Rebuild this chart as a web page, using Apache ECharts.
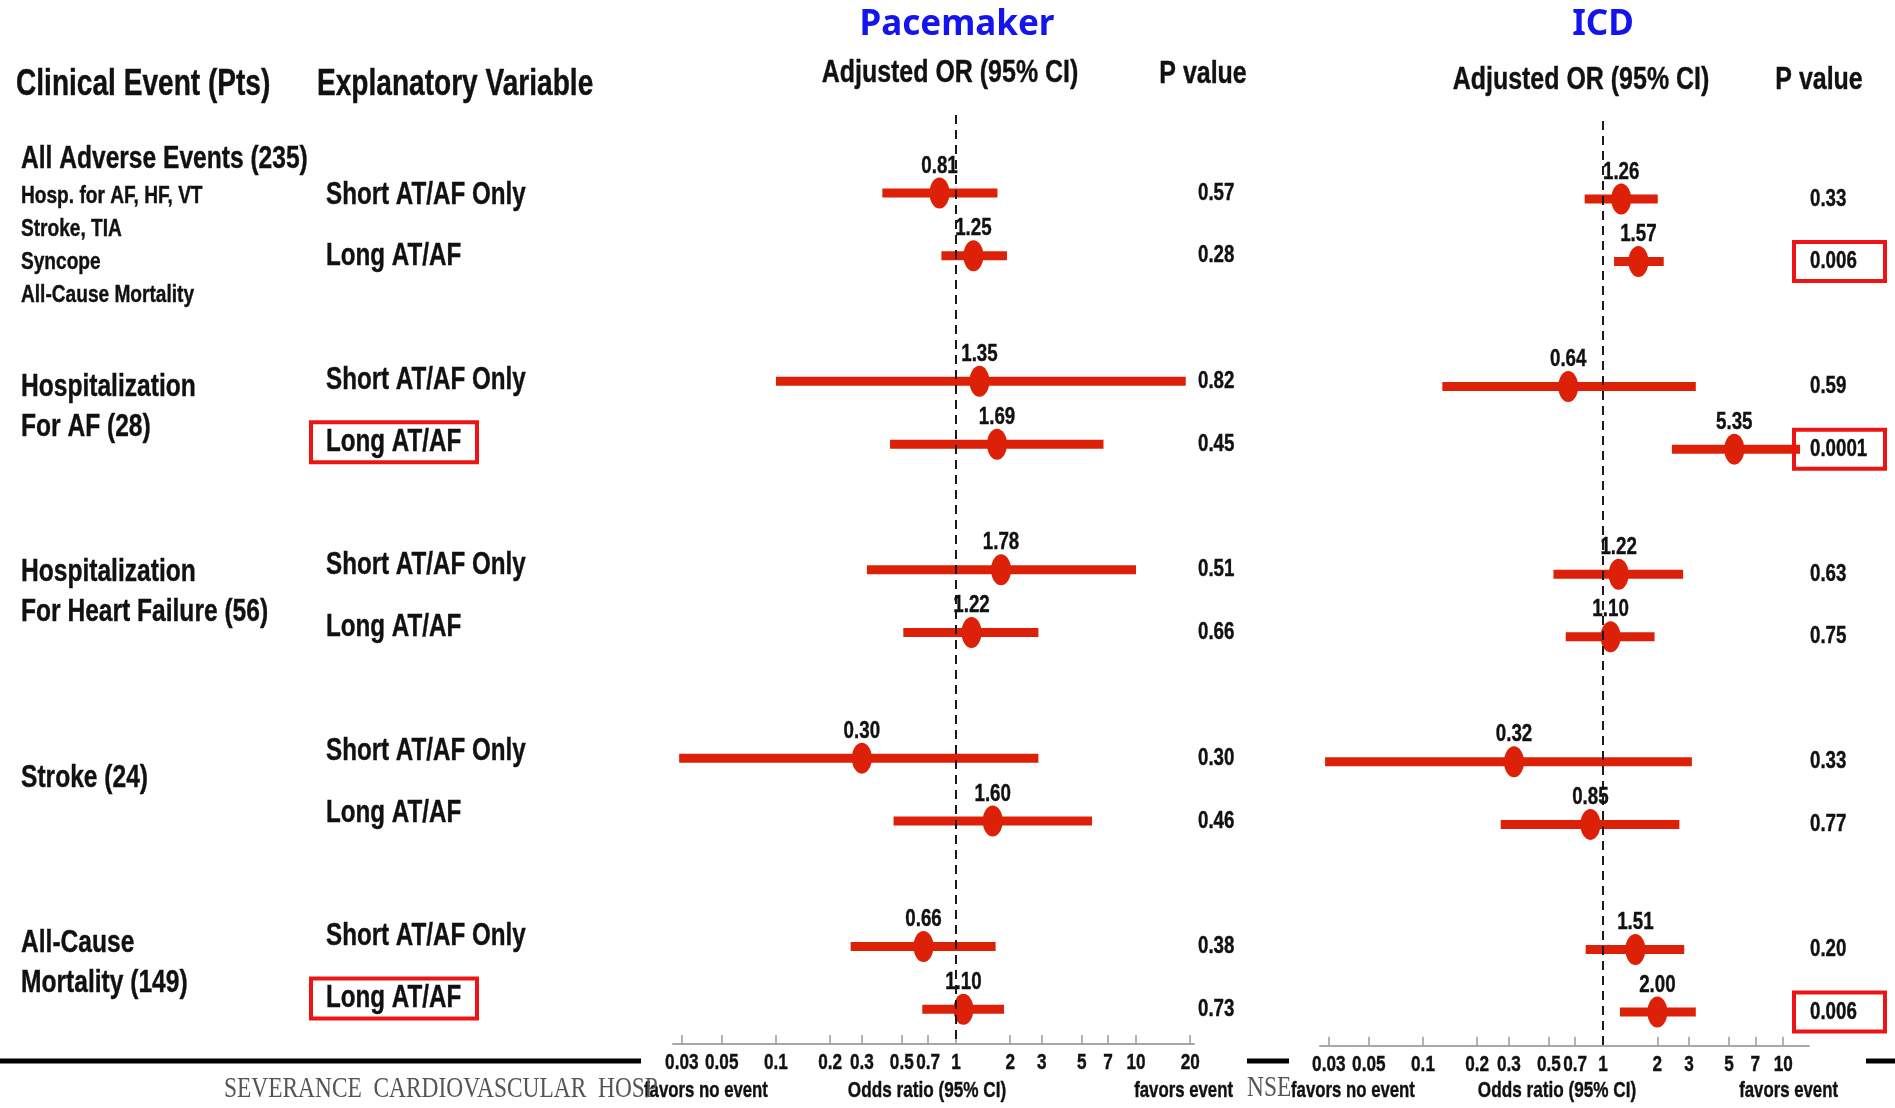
<!DOCTYPE html>
<html>
<head>
<meta charset="utf-8">
<script src="https://cdn.jsdelivr.net/npm/echarts@6/dist/echarts.min.js"></script>
<style>
  html, body { margin: 0; padding: 0; background: #ffffff; }
  #chart { width: 1895px; height: 1108px; }
</style>
</head>
<body>
<div id="chart"></div>
<script>
// ---- data -------------------------------------------------------------
const eventTitles = [
  'All Adverse Events (235)',
  'Hospitalization\nFor AF (28)',
  'Hospitalization\nFor Heart Failure (56)',
  'Stroke (24)',
  'All-Cause\nMortality (149)'
];
const compositeComponents = ['Hosp. for AF, HF, VT', 'Stroke, TIA', 'Syncope', 'All-Cause Mortality'];
const variables = ['Short AT/AF Only', 'Long AT/AF'];
const framedVariableRows = [3, 9];

// Pacemaker: adjusted odds ratios with 95% CI, one entry per event x variable
const pmOR   = [0.81, 1.25, 1.35, 1.69, 1.78, 1.22, 0.30, 1.60, 0.66, 1.10];
const pmLow  = [0.39, 0.83, 0.10, 0.43, 0.32, 0.51, 0.029, 0.45, 0.26, 0.65];
const pmHigh = [1.70, 1.92, 18.9, 6.6, 10.0, 2.87, 2.87, 5.7, 1.66, 1.85];
const pmP    = ['0.57', '0.28', '0.82', '0.45', '0.51', '0.66', '0.30', '0.46', '0.38', '0.73'];

// ICD
const icdOR   = [1.26, 1.57, 0.64, 5.35, 1.22, 1.10, 0.32, 0.85, 1.51, 2.00];
const icdLow  = [0.79, 1.15, 0.128, 2.41, 0.53, 0.62, 0.0286, 0.27, 0.80, 1.24];
const icdHigh = [2.01, 2.17, 3.27, 12.4, 2.78, 1.93, 3.11, 2.65, 2.82, 3.27];
const icdP    = ['0.33', '0.006', '0.59', '0.0001', '0.63', '0.75', '0.33', '0.77', '0.20', '0.006'];

// Odds-ratio axis ticks
const tickValues = [0.03, 0.05, 0.1, 0.2, 0.3, 0.5, 0.7, 1, 2, 3, 5, 7, 10, 20];
const tickLabels = ['0.03', '0.05', '0.1', '0.2', '0.3', '0.5', '0.7', '1', '2', '3', '5', '7', '10', '20'];

// ---- helpers ----------------------------------------------------------
const RED = '#dc2108';
const FRAME_RED = '#ee1414';
const INK = '#111111';
const SANS = "'Liberation Sans', Arial, sans-serif";
const SX = 0.78;                       // condensed lettering
const lg = v => Math.log10(v);

function narrow(x, y, text, size, align, extra) {
  return Object.assign({
    type: 'text', x: x, y: y, scaleX: SX,
    style: { text: text, font: 'bold ' + size + 'px ' + SANS, fill: INK, stroke: INK, lineWidth: 0.4,
             align: align || 'left', verticalAlign: 'middle' }
  }, extra || {});
}

// each event takes two rows followed by one empty spacer row
const rowIndex = [];
eventTitles.forEach((_, e) => variables.forEach((_, v) => rowIndex.push(e * (variables.length + 1) + v)));

const TABLE_V = { top: 118.4, height: 914.0, min: -1.24, max: 13.55 };
const PM_V    = { top: 115.1, height: 928.8, min: -1.24, max: 13.55 };
const ICD_V   = { top: 121,   height: 924.8, min: -1.247, max: 13.54 };

function grid(left, width, v) {
  return { left: left, width: width, top: v.top, height: v.height, containLabel: false };
}
function rowAxis(idx, v) {
  return { type: 'value', gridIndex: idx, inverse: true, min: v.min, max: v.max, show: false };
}
function textAxis(idx) {
  return { type: 'value', gridIndex: idx, min: 0, max: 1, show: false };
}
function orAxis(idx, maxOR) {
  return {
    type: 'value', gridIndex: idx,
    min: lg(0.0268), max: lg(maxOR),
    splitLine: { show: false },
    axisLine: { show: true, onZero: false, lineStyle: { color: '#a8a8a8', width: 2 } },
    axisTick: { show: true, inside: true, length: 9, customValues: tickValues.map(lg), lineStyle: { color: '#9a9a9a', width: 1.5 } },
    axisLabel: { show: false }
  };
}

// generic text layer placed through the grid's own coordinates
function textSeries(idx, data, build) {
  return {
    type: 'custom', xAxisIndex: idx, yAxisIndex: idx, clip: false, silent: true, z: 6,
    encode: { x: 0, y: 1 },
    data: data,
    renderItem: (params, api) => build(params.dataIndex, api.coord([api.value(0), api.value(1)]))
  };
}

function ciSeries(idx, low, high) {
  return {
    type: 'custom', xAxisIndex: idx, yAxisIndex: idx, clip: false, silent: true, z: 3,
    encode: { x: [0, 1], y: 2 },
    data: low.map((l, i) => [lg(l), lg(high[i]), rowIndex[i]]),
    renderItem: (params, api) => {
      const y = api.value(2);
      const a = api.coord([api.value(0), y]);
      const b = api.coord([api.value(1), y]);
      return { type: 'line', shape: { x1: a[0], y1: a[1], x2: b[0], y2: b[1] },
               style: { stroke: RED, lineWidth: 9, lineCap: 'butt' } };
    }
  };
}

const ELLIPSE = 'path://M0,-1 A1,1 0 1,1 0,1 A1,1 0 1,1 0,-1 Z';
function pointSeries(idx, or) {
  return {
    type: 'scatter', xAxisIndex: idx, yAxisIndex: idx, clip: false, silent: true, z: 4,
    symbol: ELLIPSE, symbolSize: [20, 31],
    itemStyle: { color: RED, opacity: 1 },
    data: or.map((v, i) => [lg(v), rowIndex[i]]),
    markLine: {
      silent: true, symbol: ['none', 'none'], animation: false,
      label: { show: false },
      lineStyle: { color: '#1a1a1a', width: 2, type: [9, 6] },
      data: [{ xAxis: 0 }]
    }
  };
}

function orLabelSeries(idx, or) {
  return textSeries(idx, or.map((v, i) => [lg(v), rowIndex[i]]),
    (i, p) => narrow(p[0], p[1] - 27, or[i].toFixed(2), 24, 'center'));
}

function tickLabelSeries(idx, v, maxOR) {
  const shown = tickValues.filter(t => t <= maxOR);
  return textSeries(idx, shown.map(t => [lg(t), v.max]),
    (i, p) => narrow(p[0], p[1] + 19, tickLabels[tickValues.indexOf(shown[i])], 22, 'center'));
}

function pValueSeries(idx, pvals, framed) {
  return textSeries(idx, pvals.map((_, i) => [0, rowIndex[i]]), (i, p) => {
    const t = narrow(p[0] + (framed ? 16 : 0), p[1], pvals[i], 24, 'left');
    if (!(framed && parseFloat(pvals[i]) < 0.05)) return t;
    return { type: 'group', children: [
      { type: 'rect', shape: { x: p[0], y: p[1] - 19.5, width: 91, height: 39 },
        style: { fill: 'none', stroke: FRAME_RED, lineWidth: 4 } },
      t
    ] };
  });
}

// ---- chart ------------------------------------------------------------
const chart = echarts.init(document.getElementById('chart'), null, { renderer: 'canvas' });

const option = {
  backgroundColor: '#ffffff',
  animation: false,
  grid: [
    grid(21, 280, TABLE_V),   // 0 clinical events
    grid(311, 300, TABLE_V),  // 1 explanatory variables
    grid(673, 521, PM_V),     // 2 pacemaker forest
    grid(1198, 45, PM_V),     // 3 pacemaker p values
    grid(1320, 489, ICD_V),   // 4 ICD forest
    grid(1794, 95, ICD_V)     // 5 ICD p values
  ],
  xAxis: [textAxis(0), textAxis(1), orAxis(2, 21), textAxis(3), orAxis(4, 13.9), textAxis(5)],
  yAxis: [rowAxis(0, TABLE_V), rowAxis(1, TABLE_V), rowAxis(2, PM_V), rowAxis(3, PM_V), rowAxis(4, ICD_V), rowAxis(5, ICD_V)],
  series: [
    // clinical event names, centred on their pair of rows
    textSeries(0, eventTitles.map((_, e) => [0, (rowIndex[2 * e] + rowIndex[2 * e + 1]) / 2]), (e, p) => {
      if (e === 0) {
        const kids = [narrow(p[0], p[1] - 67, eventTitles[0], 31.5, 'left')];
        compositeComponents.forEach((c, k) => kids.push(narrow(p[0], p[1] - 30 + k * 33, c, 24.5, 'left')));
        return { type: 'group', children: kids };
      }
      const lines = eventTitles[e].split('\n');
      return { type: 'group', children: lines.map((s, k) =>
        narrow(p[0], p[1] - 4 + (k - (lines.length - 1) / 2) * 40, s, 31.5, 'left')) };
    }),
    // explanatory variable per row
    textSeries(1, rowIndex.map(r => [0, r]), (i, p) => {
      const t = narrow(p[0] + 15, p[1], variables[i % variables.length], 31, 'left');
      if (!framedVariableRows.includes(i)) return t;
      return { type: 'group', children: [
        { type: 'rect', shape: { x: p[0], y: p[1] - 20, width: 166, height: 40 },
          style: { fill: 'none', stroke: FRAME_RED, lineWidth: 4 } },
        t
      ] };
    }),
    ciSeries(2, pmLow, pmHigh),
    pointSeries(2, pmOR),
    orLabelSeries(2, pmOR),
    tickLabelSeries(2, PM_V, 21),
    pValueSeries(3, pmP, false),
    ciSeries(4, icdLow, icdHigh),
    pointSeries(4, icdOR),
    orLabelSeries(4, icdOR),
    tickLabelSeries(4, ICD_V, 13.9),
    pValueSeries(5, icdP, true)
  ],
  graphic: [
    // panel titles and column headers
    { type: 'text', x: 957, y: 25, style: { text: 'Pacemaker', fill: '#1414ee', font: "bold 35px 'Noto Sans', sans-serif", align: 'center', verticalAlign: 'middle' } },
    { type: 'text', x: 1603, y: 25, style: { text: 'ICD', fill: '#1414ee', font: "bold 35px 'Noto Sans', sans-serif", align: 'center', verticalAlign: 'middle' } },
    narrow(950, 73, 'Adjusted OR (95% CI)', 32, 'center'),
    narrow(1203, 74, 'P value', 32, 'center'),
    narrow(1581, 80, 'Adjusted OR (95% CI)', 32, 'center'),
    narrow(1819, 80, 'P value', 32, 'center'),
    narrow(16, 85, 'Clinical Event (Pts)', 36, 'left'),
    narrow(317, 85, 'Explanatory Variable', 36, 'left'),
    // axis captions
    narrow(644, 1091, 'favors no event', 21.5, 'left'),
    narrow(927, 1091, 'Odds ratio (95% CI)', 22, 'center'),
    narrow(1233, 1091, 'favors event', 21.5, 'right'),
    narrow(1291, 1091, 'favors no event', 21.5, 'left'),
    narrow(1557, 1091, 'Odds ratio (95% CI)', 22, 'center'),
    narrow(1838, 1091, 'favors event', 21.5, 'right'),
    // footer rule and hospital name
    { type: 'line', shape: { x1: 0, y1: 1061, x2: 641, y2: 1061 }, style: { stroke: '#000', lineWidth: 5 } },
    { type: 'line', shape: { x1: 1247, y1: 1061, x2: 1289, y2: 1061 }, style: { stroke: '#000', lineWidth: 5 } },
    { type: 'line', shape: { x1: 1866, y1: 1061, x2: 1895, y2: 1061 }, style: { stroke: '#000', lineWidth: 5 } },
    { type: 'text', x: 224, y: 1089, scaleX: 0.78, style: { text: 'SEVERANCE  CARDIOVASCULAR  HOSP', fill: '#555', font: "30px 'Liberation Serif', 'DejaVu Serif', serif", align: 'left', verticalAlign: 'middle' } },
    { type: 'text', x: 1247, y: 1088, scaleX: 0.78, style: { text: 'NSE', fill: '#555', font: "30px 'Liberation Serif', 'DejaVu Serif', serif", align: 'left', verticalAlign: 'middle' } }
  ]
};

chart.setOption(option);
</script>
</body>
</html>
